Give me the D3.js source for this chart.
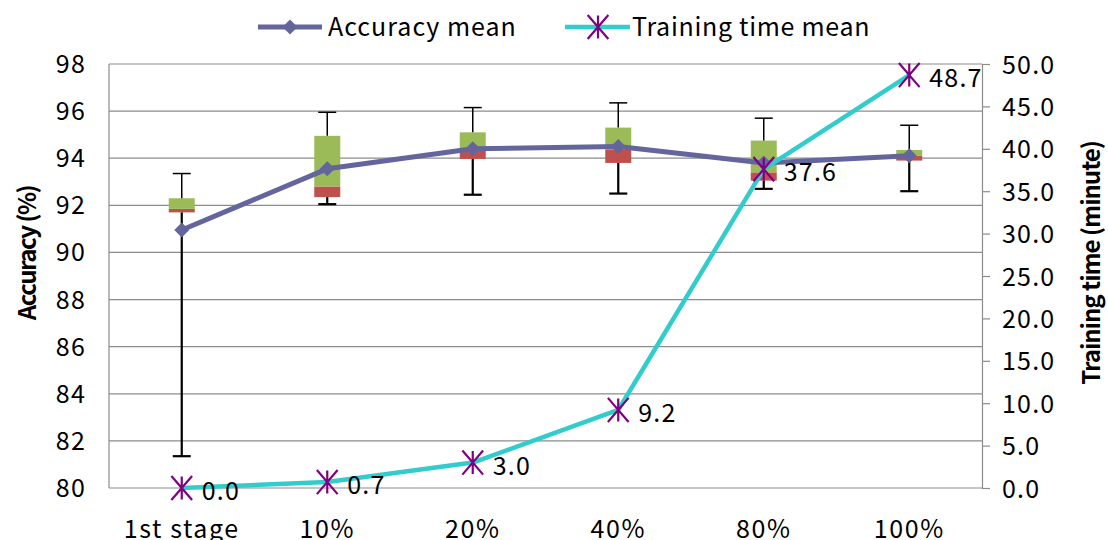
<!DOCTYPE html>
<html><head><meta charset="utf-8">
<script src="https://cdn.jsdelivr.net/npm/d3@7"></script>
<style>body{margin:0;background:#fff}svg{display:block}text{font-family:"Noto Sans CJK JP","DejaVu Sans",sans-serif}</style>
</head><body><svg id="c" width="1108" height="540"></svg>
<script>
const categories = ["1st stage","10%","20%","40%","80%","100%"];
const accMean   = [90.95, 93.55, 94.40, 94.50, 93.80, 94.10];
const accMin    = [81.35, 92.05, 92.45, 92.50, 92.70, 92.60];
const accQ1     = [91.70, 92.35, 93.97, 93.80, 93.05, 93.90];
const accMedian = [91.85, 92.80, 94.40, 94.35, 93.40, 94.10];
const accQ3     = [92.30, 94.95, 95.10, 95.30, 94.75, 94.35];
const accMax    = [93.35, 95.95, 96.15, 96.35, 95.70, 95.40];
const timeMean  = [0.0, 0.7, 3.0, 9.2, 37.6, 48.7];
const leftTicks  = [80,82,84,86,88,90,92,94,96,98];
const rightTicks = [0,5,10,15,20,25,30,35,40,45,50];

const svg = d3.select("#c");
const L = 109, R = 982, T = 64, B = 488;
const x = d3.scaleBand().domain(categories).range([L, R]);
const yL = d3.scaleLinear().domain([80, 98]).range([B, T]);
const yR = d3.scaleLinear().domain([0, 50]).range([B, T]);
const cx = c => x(c) + x.bandwidth() / 2;
const FS = 25, LS = 1.2;
const gridCol = "#8c8c8c";

// gridlines
svg.append("g").selectAll("line").data(leftTicks).join("line")
  .attr("x1", L).attr("x2", R).attr("y1", d => yL(d)).attr("y2", d => yL(d))
  .attr("stroke", gridCol).attr("stroke-width", 1.2);
// left border
svg.append("line").attr("x1", L).attr("x2", L).attr("y1", T).attr("y2", B).attr("stroke", gridCol).attr("stroke-width", 1.2);

// left tick labels
svg.append("g").selectAll("text").data(leftTicks).join("text")
  .attr("x", 86).attr("y", d => yL(d)).attr("dy", "0.36em").attr("text-anchor", "end")
  .attr("font-size", FS).attr("letter-spacing", LS).attr("fill", "#000").text(d => d);

// right axis
const rAxis = d3.axisRight(yR).tickValues(rightTicks).tickSize(8).tickFormat(d3.format(".1f"));
const rg = svg.append("g").attr("transform", `translate(${R},0)`).call(rAxis);
rg.select(".domain").attr("stroke", gridCol).attr("stroke-width", 1.2);
rg.selectAll(".tick line").attr("stroke", gridCol).attr("stroke-width", 1.2);
rg.selectAll(".tick text").attr("x", 20).attr("font-size", FS).attr("letter-spacing", LS).attr("fill", "#000")
  .attr("font-family", '"Noto Sans CJK JP",sans-serif').attr("dy", "0.36em");

// x labels
svg.append("g").selectAll("text").data(categories).join("text")
  .attr("x", d => cx(d)).attr("y", 538).attr("text-anchor", "middle")
  .attr("font-size", FS).attr("letter-spacing", 1.6).attr("fill", "#000").text(d => d);

// axis titles
svg.append("text").attr("transform", "translate(36,253) rotate(-90)")
  .attr("text-anchor", "middle").attr("font-size", 24).attr("font-weight", "bold")
  .attr("font-family", '"Liberation Sans",Arial,sans-serif').attr("letter-spacing", -1.5)
  .text("Accuracy (%)");
svg.append("text").attr("transform", "translate(1100,263) rotate(-90)")
  .attr("text-anchor", "middle").attr("font-size", 24).attr("font-weight", "bold")
  .attr("font-family", '"Liberation Sans",Arial,sans-serif').attr("letter-spacing", -1)
  .text("Training time (minute)");

// boxes
const boxW = 26;
const gb = svg.append("g");
categories.forEach((c, i) => {
  gb.append("rect").attr("x", cx(c) - boxW/2).attr("width", boxW)
    .attr("y", yL(accMedian[i])).attr("height", yL(accQ1[i]) - yL(accMedian[i])).attr("fill", "#C0504D");
  gb.append("rect").attr("x", cx(c) - boxW/2).attr("width", boxW)
    .attr("y", yL(accQ3[i])).attr("height", yL(accMedian[i]) - yL(accQ3[i])).attr("fill", "#9BBB59");
  // upper whisker
  gb.append("line").attr("x1", cx(c)).attr("x2", cx(c)).attr("y1", yL(accQ3[i])).attr("y2", yL(accMax[i])).attr("stroke", "#000").attr("stroke-width", 1.5);
  gb.append("line").attr("x1", cx(c) - 9).attr("x2", cx(c) + 9).attr("y1", yL(accMax[i])).attr("y2", yL(accMax[i])).attr("stroke", "#000").attr("stroke-width", 1.5);
  // lower whisker
  gb.append("line").attr("x1", cx(c)).attr("x2", cx(c)).attr("y1", yL(accQ1[i])).attr("y2", yL(accMin[i])).attr("stroke", "#000").attr("stroke-width", 2.2);
  gb.append("line").attr("x1", cx(c) - 9).attr("x2", cx(c) + 9).attr("y1", yL(accMin[i])).attr("y2", yL(accMin[i])).attr("stroke", "#000").attr("stroke-width", 2.2);
});

// accuracy mean line
const accCol = "#65659D";
svg.append("path").datum(accMean)
  .attr("d", d3.line().x((d, i) => cx(categories[i])).y(d => yL(d)))
  .attr("fill", "none").attr("stroke", accCol).attr("stroke-width", 5).attr("stroke-linejoin", "round");
const diamond = (px, py, s) => `M${px},${py - s}L${px + s},${py}L${px},${py + s}L${px - s},${py}Z`;
svg.append("g").selectAll("path").data(accMean).join("path")
  .attr("d", (d, i) => diamond(cx(categories[i]), yL(d), 7.5)).attr("fill", accCol);

// training time line
const tCol = "#33CCCC", starCol = "#800080";
svg.append("path").datum(timeMean)
  .attr("d", d3.line().x((d, i) => cx(categories[i])).y(d => yR(d)))
  .attr("fill", "none").attr("stroke", tCol).attr("stroke-width", 4.5).attr("stroke-linejoin", "round");
const star = (px, py, s) => {
  const a = s * 0.9, b = s * 1.05;
  return `M${px},${py - s}L${px},${py + s}M${px - a},${py - b}L${px + a},${py + b}M${px - a},${py + b}L${px + a},${py - b}`;
};
svg.append("g").selectAll("path").data(timeMean).join("path")
  .attr("d", (d, i) => star(cx(categories[i]), yR(d), 11.5)).attr("stroke", starCol).attr("stroke-width", 2.2).attr("fill", "none");
svg.append("g").selectAll("text").data(timeMean).join("text")
  .attr("x", (d, i) => cx(categories[i]) + 20).attr("y", d => yR(d) + 3).attr("dy", "0.36em")
  .attr("font-size", FS).attr("letter-spacing", LS).attr("fill", "#000").text(d => d3.format(".1f")(d));

// legend
const lg = svg.append("g");
lg.append("line").attr("x1", 258).attr("x2", 322).attr("y1", 27).attr("y2", 27).attr("stroke", accCol).attr("stroke-width", 5);
lg.append("path").attr("d", diamond(290, 27, 7.5)).attr("fill", accCol);
lg.append("text").attr("x", 328).attr("y", 27).attr("dy", "0.36em").attr("font-size", FS).attr("letter-spacing", 1).text("Accuracy mean");
lg.append("line").attr("x1", 565).attr("x2", 630).attr("y1", 27).attr("y2", 27).attr("stroke", tCol).attr("stroke-width", 4.5);
lg.append("path").attr("d", star(598, 27, 11.5)).attr("stroke", starCol).attr("stroke-width", 2.2).attr("fill", "none");
lg.append("text").attr("x", 632).attr("y", 27).attr("dy", "0.36em").attr("font-size", FS).attr("letter-spacing", 0.7).text("Training time mean");
</script></body></html>
